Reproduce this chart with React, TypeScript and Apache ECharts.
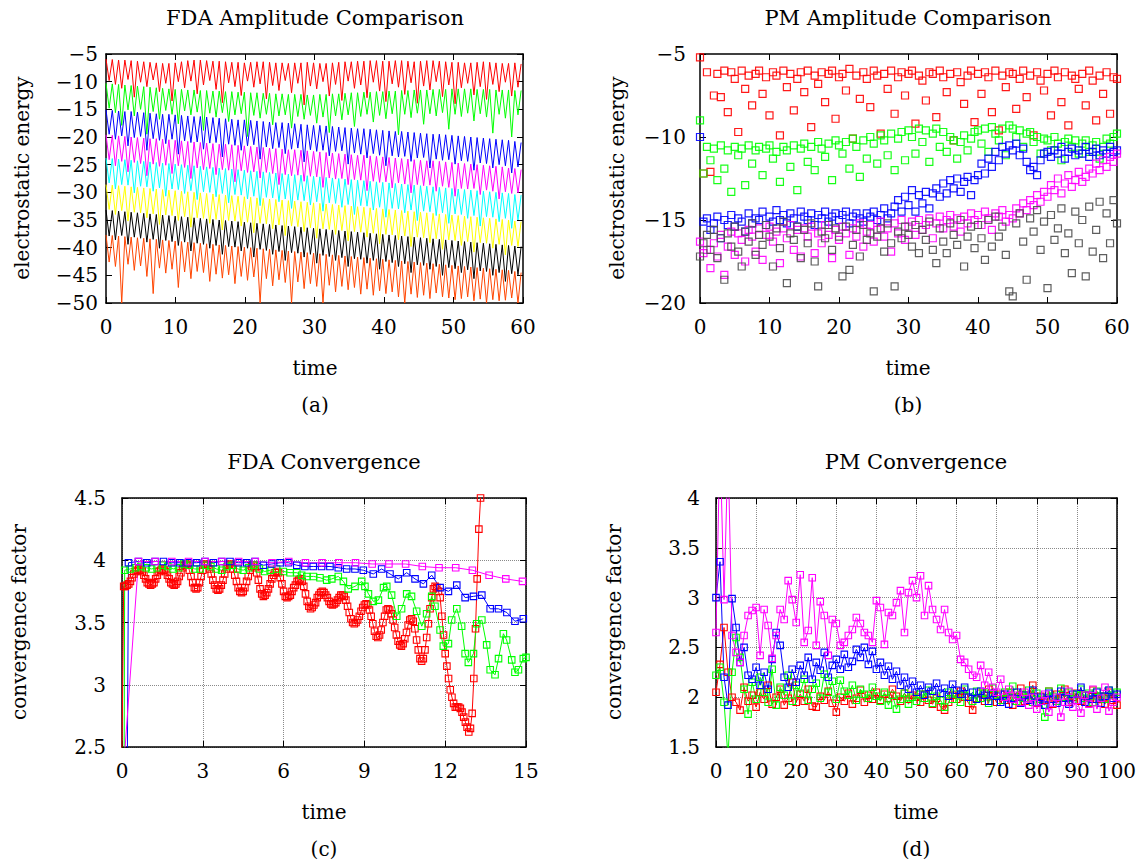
import React, { useEffect, useRef } from "react";
import * as echarts from "echarts";

// ================= (a) FDA Amplitude Comparison =================
// successive local maxima / minima of log energy, peaks every PEAK_STEP time units
const PEAK_STEP = 0.905;
const redPeaks = [-5.9,-6.0,-6.1,-6.1,-6.2,-6.3,-6.4,-6.5,-6.6,-6.7,-6.7,-6.6,-6.4,-6.2,-6.1,-6.1,-6.2,-6.3,-6.3,-6.4,-6.5,-6.5,-6.6,-6.5,-6.4,-6.4,-6.5,-6.6,-6.6,-6.7,-6.6,-6.6,-6.5,-6.6,-6.7,-6.7,-6.6,-6.5,-6.4,-6.4,-6.3,-6.3,-6.2,-6.2,-6.3,-6.3,-6.2,-6.2,-6.3,-6.4,-6.3,-6.2,-6.2,-6.3,-6.4,-6.5,-6.5,-6.6,-6.6,-6.5,-6.4,-6.5,-6.6,-6.7,-6.7,-6.6,-6.8];
const redDips = [-9.8,-10.5,-11.2,-9.6,-12.8,-10.1,-10.9,-9.7,-11.8,-10.3,-13.5,-10.0,-11.1,-9.9,-12.2,-10.6,-9.8,-11.4,-13.8,-10.2,-10.9,-12.5,-9.9,-11.0,-10.4,-13.1,-10.7,-11.6,-9.8,-12.0,-10.3,-14.2,-10.8,-11.3,-10.0,-12.6,-10.5,-13.4,-9.9,-11.2,-10.6,-12.9,-10.1,-11.7,-13.6,-10.4,-11.0,-12.3,-10.2,-13.9,-10.8,-11.5,-10.0,-12.7,-10.6,-14.0,-11.1,-10.3,-12.4,-10.9,-13.2,-10.5,-11.8,-10.1,-12.6,-11.0];
const greenPeaks = [-10.3,-10.4,-10.5,-10.6,-10.7,-10.8,-10.9,-11.0,-11.1,-11.2,-11.3,-11.4,-11.4,-11.5,-11.5,-11.6,-11.6,-11.7,-11.7,-11.8,-11.8,-11.9,-11.9,-12.0,-12.0,-12.1,-12.1,-12.2,-12.2,-12.3,-12.3,-12.3,-12.4,-12.4,-12.3,-12.3,-12.2,-12.2,-12.1,-12.0,-12.0,-11.9,-11.9,-11.8,-11.8,-11.7,-11.7,-11.6,-11.6,-11.5,-11.5,-11.5,-11.4,-11.4,-11.4,-11.3,-11.3,-11.3,-11.3,-11.4,-11.4,-11.4,-11.5,-11.5,-11.5,-11.6,-11.6];
const greenDips = [-14.8,-15.6,-17.9,-15.1,-16.2,-15.0,-19.5,-15.4,-16.8,-15.2,-15.9,-17.6,-15.3,-16.0,-15.5,-18.8,-15.7,-16.4,-15.6,-17.2,-16.0,-15.8,-19.9,-16.1,-16.6,-15.9,-17.8,-16.2,-16.0,-18.4,-16.3,-16.8,-16.1,-17.5,-16.4,-19.2,-16.2,-16.9,-16.0,-18.1,-16.3,-15.9,-17.3,-16.1,-16.7,-15.8,-19.6,-15.9,-16.5,-15.7,-17.7,-15.8,-16.2,-15.6,-18.6,-15.9,-16.3,-15.7,-17.1,-15.8,-16.4,-19.3,-15.9,-16.6,-20.0,-16.0];
const bluePeaks = [-15.1,-15.2,-15.3,-15.4,-15.4,-15.5,-15.6,-15.7,-15.8,-15.9,-15.9,-16.0,-16.1,-16.2,-16.3,-16.3,-16.4,-16.5,-16.6,-16.7,-16.8,-16.9,-16.9,-17.0,-17.1,-17.2,-17.3,-17.4,-17.4,-17.5,-17.6,-17.7,-17.8,-17.9,-17.9,-18.0,-18.1,-18.2,-18.3,-18.4,-18.5,-18.5,-18.6,-18.7,-18.8,-18.9,-19.0,-19.0,-19.1,-19.2,-19.3,-19.4,-19.5,-19.5,-19.6,-19.7,-19.8,-19.9,-20.0,-20.1,-20.2,-20.3,-20.4,-20.5,-20.6,-20.8,-21.0];
const blueDips = [-19.5,-20.4,-19.8,-21.6,-20.1,-19.9,-22.4,-20.3,-20.6,-21.2,-20.4,-23.1,-20.7,-21.0,-20.9,-22.2,-21.1,-21.0,-23.6,-21.3,-21.5,-22.4,-21.6,-21.4,-24.0,-21.8,-22.1,-21.9,-23.0,-22.2,-22.0,-24.5,-22.3,-22.6,-22.4,-23.4,-22.6,-22.5,-24.9,-22.9,-23.1,-23.8,-23.0,-23.3,-25.2,-23.4,-23.6,-23.5,-24.4,-23.8,-23.7,-25.6,-24.0,-24.2,-24.1,-24.9,-24.3,-24.4,-26.0,-24.7,-24.8,-25.6,-25.0,-25.2,-26.5,-25.4];
const magentaPeaks = [-19.6,-19.7,-19.8,-19.9,-20.0,-20.1,-20.2,-20.3,-20.3,-20.4,-20.5,-20.6,-20.7,-20.8,-20.9,-21.0,-21.1,-21.2,-21.3,-21.3,-21.4,-21.5,-21.6,-21.7,-21.8,-21.9,-22.0,-22.1,-22.2,-22.3,-22.3,-22.4,-22.5,-22.6,-22.7,-22.8,-22.9,-23.0,-23.1,-23.2,-23.3,-23.3,-23.4,-23.5,-23.6,-23.7,-23.8,-23.9,-24.0,-24.1,-24.2,-24.3,-24.3,-24.4,-24.5,-24.6,-24.7,-24.8,-24.9,-25.0,-25.1,-25.2,-25.3,-25.4,-25.6,-25.7,-25.9];
const magentaDips = [-24.1,-25.2,-24.4,-26.3,-24.6,-24.8,-27.0,-24.9,-25.3,-25.1,-26.6,-25.2,-25.5,-27.5,-25.6,-25.9,-25.7,-26.8,-25.9,-26.0,-28.1,-26.1,-26.4,-26.3,-27.4,-26.4,-26.6,-28.6,-26.8,-27.0,-26.9,-28.0,-27.1,-27.2,-29.1,-27.4,-27.6,-27.5,-28.6,-27.7,-27.8,-29.7,-28.0,-28.2,-28.1,-29.2,-28.3,-28.5,-30.1,-28.6,-28.8,-28.7,-29.8,-28.9,-29.1,-30.7,-29.3,-29.4,-29.3,-30.4,-29.6,-29.8,-31.2,-29.9,-30.2,-30.1];
const cyanPeaks = [-23.8,-23.9,-24.0,-24.1,-24.2,-24.3,-24.4,-24.5,-24.6,-24.7,-24.8,-24.9,-25.0,-25.1,-25.2,-25.3,-25.4,-25.5,-25.6,-25.7,-25.8,-25.9,-26.0,-26.1,-26.2,-26.3,-26.4,-26.5,-26.6,-26.7,-26.8,-26.9,-27.0,-27.1,-27.2,-27.3,-27.4,-27.5,-27.6,-27.7,-27.8,-27.9,-28.0,-28.1,-28.2,-28.3,-28.4,-28.5,-28.6,-28.7,-28.8,-28.9,-29.0,-29.1,-29.2,-29.3,-29.4,-29.5,-29.6,-29.7,-29.8,-29.9,-30.0,-30.1,-30.2,-30.4,-30.5];
const cyanDips = [-28.3,-29.4,-28.6,-28.7,-30.1,-28.9,-29.0,-29.8,-29.2,-30.7,-29.4,-29.5,-30.2,-29.7,-31.3,-29.9,-30.0,-30.8,-30.2,-31.9,-30.4,-30.5,-31.2,-30.7,-32.4,-30.9,-31.0,-31.7,-31.2,-32.9,-31.4,-31.5,-32.3,-31.7,-33.4,-31.9,-32.0,-32.7,-32.2,-34.0,-32.4,-32.5,-33.2,-32.7,-34.5,-32.9,-33.0,-33.7,-33.2,-35.1,-33.4,-33.5,-34.2,-33.7,-35.6,-33.9,-34.0,-34.7,-34.2,-36.1,-34.4,-34.5,-35.3,-34.7,-36.5,-35.0];
const yellowPeaks = [-28.6,-28.7,-28.8,-28.9,-29.0,-29.1,-29.2,-29.3,-29.4,-29.5,-29.6,-29.7,-29.8,-29.9,-30.0,-30.1,-30.2,-30.3,-30.4,-30.5,-30.6,-30.7,-30.8,-30.9,-31.0,-31.1,-31.2,-31.3,-31.4,-31.5,-31.6,-31.7,-31.8,-31.9,-32.0,-32.1,-32.2,-32.3,-32.4,-32.5,-32.6,-32.7,-32.8,-32.9,-33.0,-33.1,-33.2,-33.3,-33.4,-33.5,-33.6,-33.7,-33.8,-33.9,-34.0,-34.1,-34.2,-34.3,-34.4,-34.5,-34.6,-34.7,-34.8,-34.9,-35.0,-35.2,-35.3];
const yellowDips = [-33.1,-34.0,-33.3,-35.2,-33.6,-33.7,-34.6,-33.9,-35.8,-34.1,-34.2,-35.1,-34.4,-36.3,-34.6,-34.7,-35.6,-34.9,-36.8,-35.1,-35.2,-36.1,-35.4,-37.3,-35.6,-35.7,-36.6,-35.9,-37.8,-36.1,-36.2,-37.1,-36.4,-38.3,-36.6,-36.7,-37.6,-36.9,-38.8,-37.1,-37.2,-38.1,-37.4,-39.3,-37.6,-37.7,-38.6,-37.9,-39.8,-38.1,-38.2,-39.1,-38.4,-40.3,-38.6,-38.7,-39.6,-38.9,-40.8,-39.1,-39.2,-40.1,-39.4,-41.3,-39.6,-39.8];
const blackPeaks = [-33.2,-33.3,-33.4,-33.5,-33.6,-33.7,-33.8,-33.9,-34.0,-34.1,-34.2,-34.3,-34.4,-34.5,-34.6,-34.7,-34.8,-34.9,-35.0,-35.1,-35.2,-35.3,-35.4,-35.5,-35.6,-35.7,-35.8,-35.9,-36.0,-36.1,-36.2,-36.3,-36.4,-36.5,-36.6,-36.7,-36.8,-36.9,-37.0,-37.1,-37.2,-37.3,-37.4,-37.5,-37.6,-37.7,-37.8,-37.9,-38.0,-38.1,-38.2,-38.3,-38.4,-38.5,-38.6,-38.7,-38.8,-38.9,-39.0,-39.1,-39.2,-39.3,-39.4,-39.5,-39.6,-39.7,-39.8];
const blackDips = [-37.9,-38.6,-37.8,-39.4,-38.1,-38.3,-39.0,-38.5,-40.1,-38.7,-38.9,-39.6,-39.0,-40.6,-39.2,-39.4,-40.1,-39.6,-41.2,-39.8,-39.9,-40.6,-40.1,-41.7,-40.3,-40.5,-41.2,-40.7,-42.3,-40.9,-41.0,-41.7,-41.2,-42.8,-41.4,-41.6,-42.3,-41.8,-43.4,-42.0,-42.1,-42.8,-42.3,-43.9,-42.5,-42.7,-43.4,-42.9,-44.5,-43.1,-43.2,-43.9,-43.4,-45.0,-43.6,-43.8,-44.5,-44.0,-45.6,-44.2,-44.3,-45.0,-44.5,-46.1,-44.7,-44.9];
const orangePeaks = [-37.7,-37.8,-37.9,-38.0,-38.1,-38.2,-38.3,-38.4,-38.5,-38.6,-38.7,-38.8,-38.9,-39.0,-39.1,-39.2,-39.3,-39.4,-39.5,-39.6,-39.7,-39.8,-39.9,-40.0,-40.1,-40.2,-40.3,-40.4,-40.5,-40.6,-40.7,-40.8,-40.9,-41.0,-41.1,-41.2,-41.3,-41.4,-41.5,-41.6,-41.7,-41.8,-41.9,-42.0,-42.1,-42.2,-42.3,-42.4,-42.5,-42.6,-42.7,-42.8,-42.9,-43.0,-43.1,-43.2,-43.3,-43.4,-43.5,-43.6,-43.7,-43.8,-43.9,-44.0,-44.1,-44.3,-44.5];
const orangeDips = [-42.6,-43.4,-50,-43.0,-44.1,-43.3,-45.2,-48.3,-43.7,-44.6,-43.9,-47.2,-44.4,-45.6,-44.3,-44.5,-46.1,-44.8,-45.5,-44.9,-46.5,-45.2,-45.9,-45.3,-50,-45.6,-46.9,-45.8,-46.3,-50,-46.2,-47.4,-46.5,-47.0,-50,-46.8,-48.0,-47.0,-47.6,-47.2,-48.4,-47.5,-48.6,-47.8,-48.3,-48.0,-48.9,-50,-48.4,-49.0,-48.6,-49.2,-48.2,-48.9,-49.1,-49.4,-49.2,-48.9,-49.6,-49.3,-50,-49.4,-49.6,-49.5,-49.1,-50];

// ================= (b) PM Amplitude Comparison =================
const PM_STEP = 0.5;
const redPM = [-5.2,-12.2,-6.1,-12.1,-7.5,-6.2,-7.6,-6.0,-8.5,-6.1,-6.5,-9.7,-6.0,-7.1,-6.3,-8.1,-6.2,-6.0,-7.4,-6.4,-8.7,-6.1,-6.3,-9.9,-6.0,-7.0,-6.2,-8.4,-6.5,-6.1,-7.3,-6.0,-9.4,-6.3,-6.8,-6.1,-7.9,-6.2,-6.0,-8.9,-6.4,-6.2,-7.2,-5.9,-10.1,-6.3,-7.7,-6.1,-6.5,-8.2,-6.0,-6.3,-9.8,-6.2,-7.1,-6.0,-8.6,-6.4,-6.1,-7.5,-6.2,-6.0,-9.2,-6.3,-6.6,-7.8,-6.1,-6.2,-8.8,-6.0,-6.4,-7.3,-6.2,-10.2,-6.1,-6.7,-8.0,-6.3,-6.0,-9.1,-6.2,-7.4,-6.1,-6.4,-8.5,-6.0,-9.6,-6.3,-7.0,-6.1,-6.2,-8.3,-6.5,-6.0,-7.6,-6.3,-9.9,-6.1,-6.6,-7.2,-6.2,-8.7,-6.0,-6.4,-7.9,-6.1,-9.3,-6.3,-6.5,-7.1,-6.2,-8.1,-6.0,-6.6,-9.0,-6.3,-7.4,-6.1,-8.6,-6.4,-6.5];
const greenPM = [-9.0,-12.2,-10.6,-11.4,-10.7,-12.6,-10.5,-11.9,-10.8,-13.3,-10.6,-11.1,-10.7,-12.9,-10.5,-11.6,-10.8,-10.6,-12.3,-10.7,-10.5,-11.3,-10.9,-12.7,-10.6,-10.8,-11.8,-10.5,-13.2,-10.7,-10.4,-11.5,-10.6,-12.0,-10.3,-10.7,-11.2,-10.4,-12.6,-10.2,-10.5,-11.0,-10.3,-11.9,-10.1,-10.6,-12.4,-10.2,-11.3,-10.0,-10.4,-11.6,-9.9,-10.2,-11.1,-9.8,-12.0,-10.1,-9.7,-11.4,-9.6,-10.0,-11.0,-9.5,-10.3,-9.6,-11.5,-9.8,-9.5,-10.6,-9.7,-10.9,-10.0,-10.2,-11.3,-10.3,-9.9,-10.8,-10.1,-9.7,-9.6,-10.4,-9.5,-10.9,-9.4,-9.8,-10.2,-9.5,-11.1,-9.3,-9.5,-10.0,-9.6,-10.6,-9.8,-9.7,-10.3,-10.0,-11.0,-10.1,-10.2,-10.8,-10.0,-10.4,-11.4,-10.3,-10.1,-10.6,-10.2,-11.0,-10.4,-10.2,-10.9,-10.5,-10.3,-11.3,-10.6,-10.1,-10.4,-10.0,-9.8];
const bluePM = [-10.0,-15.1,-14.9,-15.6,-15.2,-14.8,-16.1,-15.0,-15.3,-14.7,-15.4,-14.9,-15.1,-15.7,-14.6,-15.2,-14.9,-15.0,-14.5,-15.3,-14.8,-15.1,-14.4,-15.0,-14.7,-15.2,-14.6,-14.9,-15.4,-14.5,-14.8,-15.0,-14.6,-15.3,-14.7,-14.9,-14.5,-15.1,-14.8,-14.6,-15.0,-14.7,-14.5,-15.2,-14.8,-14.6,-14.9,-15.1,-14.6,-14.8,-14.5,-15.0,-14.7,-14.3,-14.9,-14.6,-14.2,-13.8,-14.5,-13.6,-14.1,-13.2,-14.5,-13.5,-14.0,-13.3,-14.3,-13.4,-13.1,-13.6,-12.8,-13.4,-12.6,-13.1,-12.5,-13.3,-12.7,-12.4,-13.5,-12.6,-12.3,-11.6,-12.2,-11.3,-11.8,-10.9,-11.4,-10.6,-11.0,-10.5,-10.8,-10.4,-11.1,-10.7,-11.5,-12.0,-11.8,-12.3,-11.4,-11.0,-10.9,-11.2,-10.8,-11.0,-10.6,-11.3,-10.9,-10.7,-11.1,-10.8,-11.0,-10.6,-11.2,-10.9,-10.7,-11.1,-10.8,-11.0,-10.6,-10.9,-10.8];
const magentaPM = [-16.3,-17.0,-16.8,-17.9,-16.4,-17.2,-15.9,-18.3,-16.6,-15.7,-17.1,-15.8,-16.2,-17.5,-15.6,-16.0,-16.9,-15.5,-17.4,-15.9,-15.4,-16.3,-15.7,-17.6,-15.5,-16.1,-15.3,-16.8,-15.6,-17.2,-15.5,-16.0,-15.4,-17.0,-15.8,-16.4,-15.3,-15.9,-17.3,-15.6,-16.2,-15.4,-15.8,-17.1,-15.5,-16.0,-15.2,-16.6,-15.7,-15.3,-16.3,-15.6,-15.1,-16.0,-15.5,-16.9,-15.2,-15.8,-15.0,-16.2,-15.4,-15.1,-15.9,-15.0,-15.6,-15.3,-14.9,-16.1,-15.2,-14.8,-15.5,-15.0,-14.7,-15.4,-14.9,-15.7,-14.8,-15.2,-14.6,-15.0,-14.7,-15.3,-14.5,-14.9,-15.6,-14.6,-14.8,-14.4,-15.1,-14.7,-14.9,-14.3,-14.6,-14.0,-14.4,-13.8,-14.1,-13.5,-13.9,-13.3,-13.6,-12.9,-13.2,-12.5,-13.4,-12.8,-12.3,-13.0,-12.6,-12.1,-12.7,-12.4,-11.9,-12.2,-11.6,-12.0,-11.4,-11.8,-11.2,-11.5,-11.0];
const grayPM = [-17.2,-16.4,-15.9,-16.8,-15.6,-17.3,-16.1,-18.6,-15.8,-16.6,-15.4,-16.9,-17.8,-15.7,-16.3,-15.2,-17.1,-15.9,-16.5,-15.3,-16.0,-17.8,-15.5,-16.7,-15.1,-18.8,-15.8,-16.2,-15.4,-17.3,-15.6,-16.4,-15.2,-17.5,-19.0,-15.7,-16.1,-15.3,-16.8,-15.5,-16.0,-18.4,-15.4,-18.0,-16.5,-15.6,-17.2,-15.3,-16.2,-15.8,-19.3,-16.0,-15.5,-16.9,-15.2,-16.4,-19.0,-15.7,-16.1,-15.4,-15.9,-16.6,-15.3,-17.0,-15.6,-16.2,-15.1,-16.8,-17.6,-15.5,-16.3,-17.0,-15.2,-15.9,-16.5,-15.0,-17.8,-16.0,-15.4,-16.7,-15.3,-16.1,-17.4,-15.0,-16.6,-14.8,-16.0,-15.4,-17.1,-19.3,-19.6,-15.2,-14.6,-16.3,-18.6,-14.9,-15.7,-14.4,-16.8,-15.1,-19.1,-14.7,-16.2,-15.5,-14.3,-17.0,-15.8,-18.2,-14.5,-16.4,-15.0,-18.4,-14.2,-16.9,-15.6,-13.9,-17.3,-14.6,-16.4,-13.8,-15.2];

// ================= (c) FDA Convergence =================
const FDA_CONV_STEP = 0.0625;
const redConv = [
  2.45,3.79,3.79,3.80,3.81,3.83,3.86,3.89,3.91,3.92,
  3.93,3.92,3.91,3.88,3.85,3.82,3.81,3.80,3.81,3.82,
  3.85,3.88,3.91,3.92,3.93,3.92,3.91,3.88,3.85,3.82,
  3.81,3.80,3.81,3.83,3.87,3.90,3.94,3.96,3.97,3.96,
  3.92,3.87,3.82,3.78,3.77,3.78,3.82,3.87,3.92,3.96,
  3.97,3.96,3.93,3.89,3.84,3.80,3.77,3.76,3.77,3.80,
  3.84,3.89,3.93,3.96,3.97,3.96,3.93,3.88,3.83,3.78,
  3.75,3.74,3.75,3.78,3.83,3.87,3.92,3.95,3.96,3.94,
  3.90,3.84,3.77,3.73,3.71,3.72,3.74,3.77,3.81,3.85,
  3.88,3.90,3.91,3.90,3.86,3.81,3.75,3.71,3.70,3.71,
  3.72,3.75,3.78,3.80,3.83,3.84,3.85,3.83,3.79,3.73,
  3.67,3.63,3.61,3.62,3.64,3.66,3.70,3.72,3.74,3.75,
  3.74,3.72,3.70,3.67,3.65,3.64,3.65,3.66,3.68,3.70,
  3.72,3.72,3.71,3.68,3.63,3.58,3.53,3.50,3.49,3.50,
  3.52,3.55,3.59,3.62,3.64,3.65,3.64,3.60,3.55,3.49,
  3.43,3.39,3.38,3.40,3.44,3.50,3.55,3.60,3.61,3.60,
  3.57,3.52,3.46,3.40,3.35,3.32,3.31,3.33,3.37,3.42,
  3.48,3.52,3.53,3.51,3.45,3.36,3.28,3.21,3.19,3.21,
  3.28,3.38,3.49,3.61,3.70,3.77,3.79,3.78,3.75,3.70,
  3.55,3.40,3.25,3.15,3.05,2.96,2.90,2.85,2.82,2.82,
  2.82,2.81,2.78,2.74,2.70,2.66,2.62,2.65,2.77,3.05,
  3.45,3.85,4.25,4.50,4.70];
const greenConvT = [0.08,0.1,0.3,0.5,0.7,0.9,1.1,1.3,1.5,1.7,1.9,2.1,2.3,2.5,2.7,2.9,3.1,3.3,3.5,3.7,3.9,4.1,4.3,4.5,4.7,4.9,5.1,5.3,5.5,5.74,5.99,6.24,6.49,6.67,6.86,7.11,7.35,7.6,7.79,8.03,8.22,8.4,8.65,8.9,9.02,9.15,9.33,9.52,9.71,9.83,10.01,10.2,10.38,10.57,10.75,10.94,11.13,11.31,11.5,11.62,11.81,11.93,12.12,12.24,12.43,12.61,12.74,12.86,13.05,13.17,13.36,13.54,13.67,13.85,13.98,14.16,14.28,14.47,14.59,14.72,14.9,15.0];
const greenConvV = [2.45,3.92,3.93,3.94,3.95,3.94,3.93,3.94,3.96,3.95,3.93,3.94,3.97,3.96,3.93,3.93,3.96,3.95,3.93,3.92,3.95,3.96,3.93,3.92,3.94,3.96,3.93,3.91,3.92,3.93,3.91,3.90,3.90,3.88,3.87,3.87,3.86,3.84,3.85,3.87,3.83,3.77,3.79,3.83,3.79,3.73,3.67,3.68,3.78,3.79,3.72,3.55,3.61,3.73,3.71,3.59,3.47,3.57,3.71,3.63,3.44,3.31,3.33,3.52,3.61,3.47,3.25,3.18,3.25,3.49,3.52,3.32,3.12,3.08,3.21,3.41,3.36,3.20,3.10,3.12,3.21,3.22];
const blueConvT = [0.2,0.24,0.61,0.92,1.23,1.54,1.84,2.15,2.46,2.77,3.08,3.39,3.70,4.01,4.32,4.63,4.94,5.25,5.56,5.87,6.18,6.49,6.79,7.10,7.41,7.72,8.03,8.34,8.65,8.96,9.33,9.64,9.95,10.26,10.57,10.88,11.19,11.5,11.81,12.12,12.43,12.74,13.05,13.36,13.67,13.98,14.29,14.59,14.9];
const blueConvV = [2.45,3.98,3.99,3.98,3.99,3.99,3.98,3.98,3.98,3.98,3.99,3.98,3.99,3.99,3.98,3.98,3.99,3.96,3.97,3.98,3.98,3.96,3.95,3.95,3.95,3.95,3.94,3.93,3.93,3.92,3.89,3.93,3.89,3.85,3.90,3.85,3.81,3.88,3.78,3.75,3.80,3.70,3.71,3.72,3.61,3.61,3.58,3.51,3.53];
const magentaConvT = [0.1,0.61,1.23,1.85,2.47,3.09,3.71,4.33,4.95,5.57,6.19,6.81,7.43,8.05,8.67,9.29,9.91,10.53,11.15,11.77,12.39,13.01,13.63,14.25,14.87];
const magentaConvV = [2.45,3.99,3.99,3.99,3.99,3.99,3.99,3.99,3.99,3.98,3.99,3.98,3.98,3.98,3.98,3.97,3.97,3.97,3.95,3.94,3.94,3.92,3.88,3.85,3.83];

// ================= (d) PM Convergence =================
const PM_CONV_STEP = 1;
const redPMConv = [2.05,2.33,2.70,2.25,2.00,1.95,1.87,2.10,1.96,2.02,1.90,2.05,1.98,2.12,1.93,2.00,2.08,1.92,1.99,2.15,1.95,2.03,1.96,2.08,1.91,1.90,2.01,1.97,2.06,1.94,1.85,2.00,1.96,2.04,1.93,1.99,2.07,1.95,2.02,1.98,2.05,1.97,2.03,1.99,2.08,2.01,1.96,2.04,1.98,2.02,2.00,1.95,2.03,1.97,1.93,1.99,1.90,1.87,1.95,2.02,1.98,2.06,2.00,1.94,1.87,1.99,2.04,1.96,2.08,2.01,1.95,2.03,1.97,2.05,1.92,2.00,2.09,1.96,2.02,2.12,1.94,2.01,1.97,2.06,1.93,2.03,1.99,2.08,1.95,2.00,2.04,1.96,2.02,1.94,2.07,1.98,2.01,1.93,2.05,1.97,1.92];
const greenPMConv = [2.22,2.30,1.95,1.40,2.25,2.60,2.40,2.08,1.83,2.15,1.98,2.20,2.05,1.95,2.28,1.92,2.10,2.02,2.22,1.96,2.12,2.04,2.18,1.97,2.08,2.14,1.99,2.23,2.05,2.16,1.98,2.17,2.06,2.02,2.12,1.97,2.08,2.03,1.99,2.10,2.01,1.96,2.05,1.92,2.02,1.88,1.98,2.04,1.93,2.00,1.96,2.03,1.99,2.07,1.94,2.01,1.97,1.90,2.05,1.98,2.03,1.95,2.08,2.00,1.96,2.06,1.99,2.04,1.94,2.09,2.02,1.97,2.05,2.00,2.11,1.96,2.03,1.99,2.07,1.95,2.04,1.98,1.80,2.06,2.01,1.96,2.09,2.00,2.05,1.97,2.03,2.08,1.99,2.04,1.95,2.06,2.01,1.98,2.07,2.02,2.05];
const bluePMConv = [3.00,3.36,2.20,1.92,2.99,2.70,2.35,2.50,2.22,2.18,2.30,2.12,2.25,2.08,2.38,2.65,2.52,2.20,2.10,2.28,2.15,2.32,2.22,2.40,2.18,2.35,2.27,2.45,2.20,2.32,2.38,2.28,2.43,2.30,2.36,2.48,2.40,2.50,2.33,2.46,2.28,2.35,2.22,2.31,2.18,2.26,2.12,2.20,2.08,2.16,2.05,2.12,2.02,2.10,2.06,2.14,2.04,2.09,2.01,2.13,2.07,2.03,2.10,2.00,2.05,1.98,2.06,2.02,1.96,2.04,2.01,1.95,2.03,1.93,1.99,2.05,1.94,2.02,1.97,2.07,1.95,2.00,1.92,2.04,1.98,1.94,2.06,1.99,1.93,2.03,1.97,2.10,1.95,2.02,1.98,2.05,1.94,2.01,2.07,1.99,2.03];
const magentaPMConv = [2.65,4.60,2.98,4.50,2.62,2.45,2.35,2.62,2.82,2.87,2.90,2.42,2.88,2.72,2.39,2.62,2.88,2.78,3.17,2.98,2.75,3.23,2.55,2.67,3.20,2.52,2.96,2.82,2.42,2.78,2.74,2.52,2.55,2.62,2.68,2.80,2.74,2.65,2.62,2.55,2.97,2.90,2.53,2.85,2.82,2.95,3.07,2.65,3.05,3.17,3.00,3.22,2.82,3.12,2.88,2.78,2.68,2.88,2.65,2.58,2.62,2.38,2.35,2.28,2.22,2.20,2.32,2.12,2.25,2.10,2.05,2.18,2.00,2.08,1.98,2.02,1.95,2.05,1.92,2.00,1.88,1.96,2.03,1.85,1.94,2.00,1.80,1.95,2.06,1.90,1.97,1.84,2.02,1.93,2.08,1.88,1.99,2.10,1.86,1.95,2.00];

// ================= helpers =================
const FONT = '"DejaVu Serif", serif';
const C = {
  red: "#ff0000", green: "#00ff00", blue: "#0000ff", magenta: "#ff00ff",
  cyan: "#00ffff", yellow: "#ffff00", black: "#000000", orange: "#ff4500", gray: "#4d4d4d",
};

function arches(peaks: number[], dips: number[], step: number): [number, number][] {
  const out: [number, number][] = [];
  for (let k = 0; k < peaks.length; k++) {
    out.push([k * step, peaks[k]]);
    if (k < dips.length) out.push([k * step + step / 2, dips[k]]);
  }
  return out;
}
function regular(vals: number[], step: number): [number, number][] {
  return vals.map((v, i) => [i * step, v]);
}
function pairs(ts: number[], vs: number[]): [number, number][] {
  return ts.map((t, i) => [t, vs[i]]);
}

const tick = { show: true, inside: true, length: 6, lineStyle: { color: "#000", width: 1 } };
const axLine = { show: true, onZero: false, lineStyle: { color: "#000", width: 1.5 } };
const gridLine = { show: true, lineStyle: { color: "#8a8a8a", type: "dotted", width: 1 } };
const minusFmt = (v: number) => String(v).replace("-", "\u2212");

function xPair(gridIndex: number, min: number, max: number, interval: number, grid: boolean) {
  return [
    {
      type: "value", gridIndex, min, max, interval, position: "bottom",
      axisLine: axLine, axisTick: tick,
      axisLabel: { color: "#000", fontFamily: FONT, fontSize: 20, margin: 14 },
      splitLine: grid ? gridLine : { show: false },
    },
    {
      type: "value", gridIndex, min, max, interval, position: "top",
      axisLine: axLine, axisTick: tick, axisLabel: { show: false }, splitLine: { show: false },
    },
  ];
}
function yPair(gridIndex: number, min: number, max: number, interval: number, grid: boolean, margin: number) {
  return [
    {
      type: "value", gridIndex, min, max, interval, position: "left",
      axisLine: axLine, axisTick: tick,
      axisLabel: { color: "#000", fontFamily: FONT, fontSize: 20, margin, formatter: minusFmt },
      splitLine: grid ? gridLine : { show: false },
    },
    {
      type: "value", gridIndex, min, max, interval, position: "right",
      axisLine: axLine, axisTick: tick, axisLabel: { show: false }, splitLine: { show: false },
    },
  ];
}

function fdaLine(name: string, data: [number, number][], color: string) {
  return {
    name, type: "line", xAxisIndex: 0, yAxisIndex: 0, data, showSymbol: false, symbol: "none",
    lineStyle: { color, width: 1 }, itemStyle: { color }, clip: true, z: 2,
  };
}
function pmScatter(name: string, data: [number, number][], color: string) {
  return {
    name, type: "scatter", xAxisIndex: 2, yAxisIndex: 2, data, symbol: "rect", symbolSize: 7,
    itemStyle: { color: "rgba(0,0,0,0)", borderColor: color, borderWidth: 1.2, opacity: 0.9 }, clip: true, z: 2,
  };
}
function convLine(name: string, data: [number, number][], color: string, axis: number) {
  return {
    name, type: "line", xAxisIndex: axis, yAxisIndex: axis, data, symbol: "rect", symbolSize: 6.5,
    showSymbol: true, showAllSymbol: true,
    lineStyle: { color, width: 1 },
    itemStyle: { color: "rgba(0,0,0,0)", borderColor: color, borderWidth: 1.1 },
    clip: true, z: 2,
  };
}

function txt(text: string, x: number, y: number, size = 20, rotate = false) {
  return {
    type: "text", x, y, rotation: rotate ? Math.PI / 2 : 0, z: 10,
    style: { text, fill: "#000", font: `${size}px ${FONT}`, textAlign: "center", textVerticalAlign: "middle" },
  };
}

export default function App() {
  const ref = useRef<HTMLDivElement>(null);
  useEffect(() => {
    document.body.style.margin = "0";
    if (!ref.current) return;
    const chart = echarts.init(ref.current, undefined, { renderer: "svg" });
    const option = {
      animation: false,
      backgroundColor: "#ffffff",
      grid: [
        { left: 106, top: 54, width: 417, height: 249 },
        { left: 700, top: 54, width: 417, height: 249 },
        { left: 122, top: 498, width: 404, height: 249 },
        { left: 716, top: 498, width: 401, height: 249 },
      ],
      xAxis: [
        ...xPair(0, 0, 60, 10, false),
        ...xPair(1, 0, 60, 10, false),
        ...xPair(2, 0, 15, 3, true),
        ...xPair(3, 0, 100, 10, true),
      ],
      yAxis: [
        ...yPair(0, -50, -5, 5, false, 8),
        ...yPair(1, -20, -5, 5, false, 14),
        ...yPair(2, 2.5, 4.5, 0.5, true, 16),
        ...yPair(3, 1.5, 4, 0.5, true, 16),
      ],
      series: [
        fdaLine("red", arches(redPeaks, redDips, PEAK_STEP), C.red),
        fdaLine("green", arches(greenPeaks, greenDips, PEAK_STEP), C.green),
        fdaLine("blue", arches(bluePeaks, blueDips, PEAK_STEP), C.blue),
        fdaLine("magenta", arches(magentaPeaks, magentaDips, PEAK_STEP), C.magenta),
        fdaLine("cyan", arches(cyanPeaks, cyanDips, PEAK_STEP), C.cyan),
        fdaLine("yellow", arches(yellowPeaks, yellowDips, PEAK_STEP), C.yellow),
        fdaLine("black", arches(blackPeaks, blackDips, PEAK_STEP), C.black),
        fdaLine("orange", arches(orangePeaks, orangeDips, PEAK_STEP), C.orange),

        pmScatter("red", regular(redPM, PM_STEP), C.red),
        pmScatter("green", regular(greenPM, PM_STEP), C.green),
        pmScatter("blue", regular(bluePM, PM_STEP), C.blue),
        pmScatter("magenta", regular(magentaPM, PM_STEP), C.magenta),
        pmScatter("gray", regular(grayPM, PM_STEP), C.gray),

        convLine("red", regular(redConv, FDA_CONV_STEP), C.red, 4),
        convLine("green", pairs(greenConvT, greenConvV), C.green, 4),
        convLine("blue", pairs(blueConvT, blueConvV), C.blue, 4),
        convLine("magenta", pairs(magentaConvT, magentaConvV), C.magenta, 4),

        convLine("red", regular(redPMConv, PM_CONV_STEP), C.red, 6),
        convLine("green", regular(greenPMConv, PM_CONV_STEP), C.green, 6),
        convLine("blue", regular(bluePMConv, PM_CONV_STEP), C.blue, 6),
        convLine("magenta", regular(magentaPMConv, PM_CONV_STEP), C.magenta, 6),
      ],
      graphic: [
        txt("FDA Amplitude Comparison", 315, 18, 21),
        txt("PM Amplitude Comparison", 908, 18, 21),
        txt("FDA Convergence", 324, 462, 21),
        txt("PM Convergence", 916, 462, 21),
        txt("electrostatic energy", 22, 178, 20, true),
        txt("electrostatic energy", 617, 178, 20, true),
        txt("convergence factor", 19, 622, 20, true),
        txt("convergence factor", 614, 622, 20, true),
        txt("time", 315, 368),
        txt("time", 908, 368),
        txt("time", 324, 812),
        txt("time", 916, 812),
        txt("(a)", 315, 405),
        txt("(b)", 908, 405),
        txt("(c)", 324, 849),
        txt("(d)", 916, 849),
      ],
    };
    chart.setOption(option as any);
    return () => chart.dispose();
  }, []);
  return <div ref={ref} style={{ width: 1145, height: 867 }} />;
}
